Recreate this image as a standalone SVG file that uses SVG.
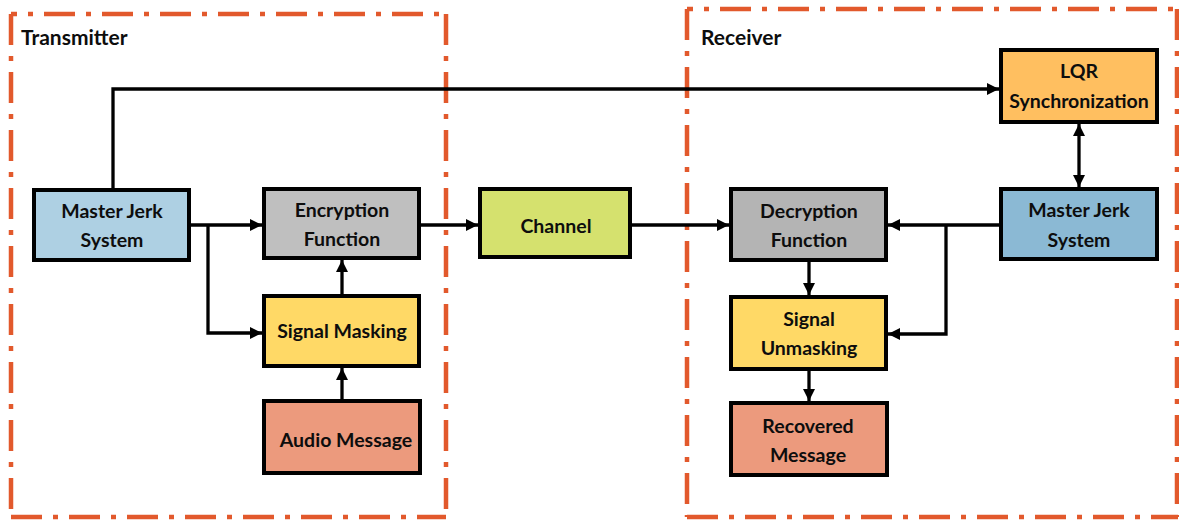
<svg xmlns="http://www.w3.org/2000/svg" width="1179" height="521" viewBox="0 0 1179 521">
  <style>
    .frame { fill: none; stroke: #E2592C; stroke-width: 4.5; stroke-dasharray: 31 11 5 11; }
    .box { stroke: #000; stroke-width: 4; }
    .lbl { font-family: Lato, "Open Sans", sans-serif; font-weight: bold; font-size: 19.5px; fill: #0d0d0d; text-anchor: middle; }
    .title { font-family: Lato, "Open Sans", sans-serif; font-weight: bold; font-size: 21px; fill: #0d0d0d; }
    .wire { fill: none; stroke: #000; stroke-width: 3.3; }
  </style>
  <defs>
    <marker id="arrow" viewBox="0 0 12 12" refX="12" refY="6" markerWidth="12" markerHeight="12" markerUnits="userSpaceOnUse" orient="auto-start-reverse">
      <path d="M0 0 L12 6 L0 12 Z" fill="#000"/>
    </marker>
  </defs>
  <rect width="1179" height="521" fill="#fff"/>

  <!-- dash-dot frames -->
  <g id="transmitter-frame">
    <path class="frame" d="M11 14 V517"/>
    <path class="frame" d="M11 14 H446" stroke-dashoffset="25"/>
    <path class="frame" d="M446 14 V517"/>
    <path class="frame" d="M11 517 H446"/>
    <text class="title" x="21" y="45">Transmitter</text>
  </g>
  <g id="receiver-frame">
    <path class="frame" d="M687 9 V517"/>
    <path class="frame" d="M687 9 H1178" stroke-dashoffset="25"/>
    <path class="frame" d="M1177 9 V517"/>
    <path class="frame" d="M687 517 H1178"/>
    <text class="title" x="701" y="45">Receiver</text>
  </g>

  <!-- connectors -->
  <g id="connectors">
    <path class="wire" d="M113 188 V89 H999" marker-end="url(#arrow)"/>
    <path class="wire" d="M191 225 H262" marker-end="url(#arrow)"/>
    <path class="wire" d="M208 225 V333 H262" marker-end="url(#arrow)"/>
    <path class="wire" d="M342 294 V260" marker-end="url(#arrow)"/>
    <path class="wire" d="M342 399 V368" marker-end="url(#arrow)"/>
    <path class="wire" d="M421 225 H478" marker-end="url(#arrow)"/>
    <path class="wire" d="M632 225 H729" marker-end="url(#arrow)"/>
    <path class="wire" d="M999 225 H888" marker-end="url(#arrow)"/>
    <path class="wire" d="M946 225 V334 H888" marker-end="url(#arrow)"/>
    <path class="wire" d="M809 262 V295" marker-end="url(#arrow)"/>
    <path class="wire" d="M809 371 V401" marker-end="url(#arrow)"/>
    <path class="wire" d="M1079 124 V187" marker-start="url(#arrow)" marker-end="url(#arrow)"/>
  </g>

  <!-- transmitter side -->
  <g id="master-jerk-tx">
    <rect class="box" x="34" y="190" width="155" height="70" fill="#AED0E3"/>
    <text class="lbl" x="112" y="218">Master Jerk</text>
    <text class="lbl" x="112" y="247">System</text>
  </g>
  <g id="encryption">
    <rect class="box" x="264" y="189" width="155" height="69" fill="#BFBFBF"/>
    <text class="lbl" x="342" y="217">Encryption</text>
    <text class="lbl" x="342" y="246">Function</text>
  </g>
  <g id="signal-masking">
    <rect class="box" x="264" y="296" width="155" height="70" fill="#FFD966"/>
    <text class="lbl" x="342" y="338">Signal Masking</text>
  </g>
  <g id="audio-message">
    <rect class="box" x="264" y="401" width="156" height="72" fill="#EC9A7D"/>
    <text class="lbl" x="346" y="447">Audio Message</text>
  </g>

  <!-- channel -->
  <g id="channel">
    <rect class="box" x="480" y="189" width="150" height="68" fill="#D5E16E"/>
    <text class="lbl" x="556" y="233">Channel</text>
  </g>

  <!-- receiver side -->
  <g id="lqr-sync">
    <rect class="box" x="1001" y="50" width="156" height="72" fill="#FFBF60"/>
    <text class="lbl" x="1079" y="78">LQR</text>
    <text class="lbl" x="1079" y="108">Synchronization</text>
  </g>
  <g id="master-jerk-rx">
    <rect class="box" x="1001" y="189" width="156" height="70" fill="#8BB9D4"/>
    <text class="lbl" x="1079" y="217">Master Jerk</text>
    <text class="lbl" x="1079" y="247">System</text>
  </g>
  <g id="decryption">
    <rect class="box" x="731" y="189" width="155" height="71" fill="#B4B4B4"/>
    <text class="lbl" x="809" y="218">Decryption</text>
    <text class="lbl" x="809" y="247">Function</text>
  </g>
  <g id="signal-unmasking">
    <rect class="box" x="731" y="297" width="155" height="72" fill="#FFD966"/>
    <text class="lbl" x="809" y="326">Signal</text>
    <text class="lbl" x="809" y="355">Unmasking</text>
  </g>
  <g id="recovered-message">
    <rect class="box" x="731" y="403" width="156" height="72" fill="#EC9A7D"/>
    <text class="lbl" x="808" y="433">Recovered</text>
    <text class="lbl" x="808" y="462">Message</text>
  </g>
</svg>
